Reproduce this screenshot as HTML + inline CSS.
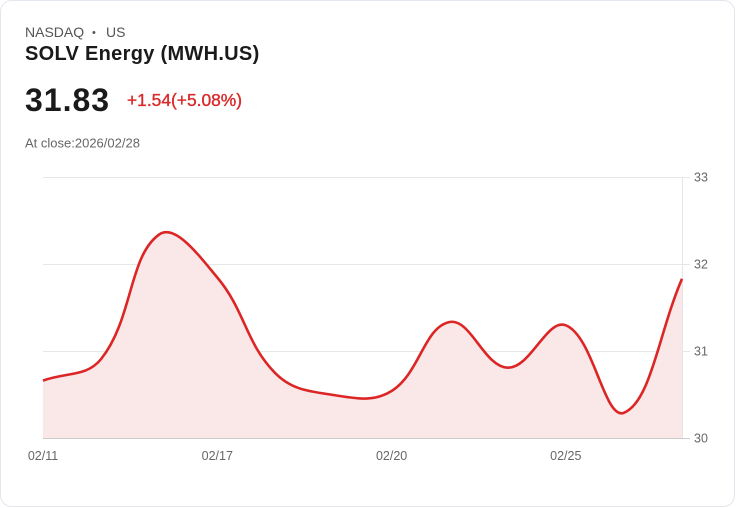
<!DOCTYPE html>
<html>
<head>
<meta charset="utf-8">
<style>
  html, body { margin:0; padding:0; background:#ffffff; }
  body { width:736px; height:508px; overflow:hidden; }
  svg { display:block; font-family:"Liberation Sans", Arial, sans-serif; }
</style>
</head>
<body>
<svg width="736" height="508" viewBox="0 0 736 508" xmlns="http://www.w3.org/2000/svg">
  <rect x="0.5" y="0.5" width="734" height="506" rx="11" ry="11" fill="#ffffff" stroke="#e2e6ee" stroke-width="1"/>

  <!-- header -->
  <text x="25" y="37" font-size="14" fill="#555555">NASDAQ</text>
  <text x="92" y="36" font-size="11" fill="#555555">•</text>
  <text x="106" y="37" font-size="14" fill="#555555">US</text>
  <text x="25" y="60" font-size="20" font-weight="bold" fill="#1a1a1a" letter-spacing="0.3">SOLV Energy (MWH.US)</text>
  <text x="25" y="111" font-size="32" font-weight="bold" fill="#1a1a1a" letter-spacing="1">31.83</text>
  <text x="127" y="106" font-size="17.4" fill="#d92929" stroke="#d92929" stroke-width="0.35">+1.54(+5.08%)</text>
  <text x="25" y="147.5" font-size="13" fill="#666666">At close:2026/02/28</text>

  <!-- grid -->
  <line x1="43" y1="177.5" x2="690" y2="177.5" stroke="#e6e6e6" stroke-width="1"/>
  <line x1="43" y1="264.5" x2="690" y2="264.5" stroke="#e6e6e6" stroke-width="1"/>
  <line x1="43" y1="351.5" x2="690" y2="351.5" stroke="#e6e6e6" stroke-width="1"/>
  <line x1="682.5" y1="177" x2="682.5" y2="438" stroke="#e6e6e6" stroke-width="1"/>

  <!-- area -->
  <path d="M43,380.6 C66.24,371.96 86.65,377.17 101.1,359
           C133.12,318.73 128.75,255.86 159.2,234.5
           C175.22,223.26 199.07,255.72 217.3,277.5
           C245.54,311.24 245.48,343.04 275.4,373.3
           C291.96,390.04 309.53,391.35 333.5,395
           C356.0,398.43 373.37,402.45 391.6,391
           C419.84,373.25 424.08,327.12 449.6,322
           C470.52,317.8 484.15,367.03 507.7,367.7
           C530.63,368.35 546.91,317.97 565.8,325.3
           C593.39,336.01 604.46,420.58 623.9,412.8
           C650.94,401.98 658.76,332.4 682,278.8
           L682,438 L43,438 Z" fill="#fae7e8" stroke="none"/>

  <!-- axis bottom -->
  <line x1="43" y1="438.5" x2="690" y2="438.5" stroke="#cccccc" stroke-width="1"/>

  <!-- line -->
  <path d="M43,380.6 C66.24,371.96 86.65,377.17 101.1,359
           C133.12,318.73 128.75,255.86 159.2,234.5
           C175.22,223.26 199.07,255.72 217.3,277.5
           C245.54,311.24 245.48,343.04 275.4,373.3
           C291.96,390.04 309.53,391.35 333.5,395
           C356.0,398.43 373.37,402.45 391.6,391
           C419.84,373.25 424.08,327.12 449.6,322
           C470.52,317.8 484.15,367.03 507.7,367.7
           C530.63,368.35 546.91,317.97 565.8,325.3
           C593.39,336.01 604.46,420.58 623.9,412.8
           C650.94,401.98 658.76,332.4 682,278.8"
        fill="none" stroke="#dc2626" stroke-width="2.6" stroke-linejoin="round" stroke-linecap="butt"/>

  <!-- y labels -->
  <text x="694" y="181.5" font-size="12.5" fill="#666666">33</text>
  <text x="694" y="268.5" font-size="12.5" fill="#666666">32</text>
  <text x="694" y="355.5" font-size="12.5" fill="#666666">31</text>
  <text x="694" y="442.5" font-size="12.5" fill="#666666">30</text>

  <!-- x labels -->
  <text x="43" y="460" font-size="12.5" fill="#666666" text-anchor="middle">02/11</text>
  <text x="217.3" y="460" font-size="12.5" fill="#666666" text-anchor="middle">02/17</text>
  <text x="391.6" y="460" font-size="12.5" fill="#666666" text-anchor="middle">02/20</text>
  <text x="565.8" y="460" font-size="12.5" fill="#666666" text-anchor="middle">02/25</text>
</svg>
</body>
</html>
